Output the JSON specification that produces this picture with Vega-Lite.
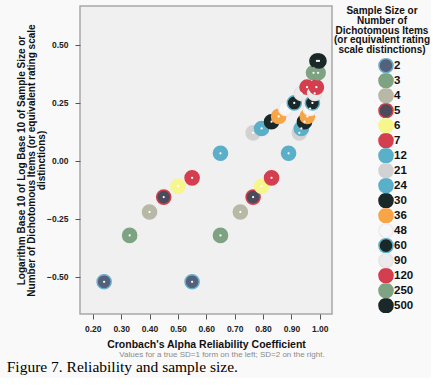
{
  "$schema": "https://vega.github.io/schema/vega-lite/v6.json",
  "background": "#f9f9f9",
  "padding": {"left": 6, "top": 5, "right": 0, "bottom": 2},
  "title": {
    "text": "Figure 7. Reliability and sample size.",
    "orient": "bottom",
    "anchor": "start",
    "frame": "bounds",
    "font": "Liberation Serif",
    "fontSize": 15.5,
    "fontWeight": "normal",
    "color": "#000000",
    "offset": 0,
    "dx": -9
  },
  "vconcat": [
    {
      "width": 252,
      "height": 308,
      "title": {
        "text": "Values for a true SD=1 form on the left; SD=2 on the right.",
        "orient": "bottom",
        "anchor": "middle",
        "font": "Liberation Sans",
        "fontSize": 8,
        "fontWeight": "normal",
        "color": "#8a8a8a",
        "offset": 1,
        "dx": 16
      },
      "data": {
        "values": [
          {"n": 2, "sd": 1, "alpha": 0.24, "y": -0.521},
          {"n": 3, "sd": 1, "alpha": 0.33, "y": -0.321},
          {"n": 4, "sd": 1, "alpha": 0.40, "y": -0.220},
          {"n": 5, "sd": 1, "alpha": 0.45, "y": -0.156},
          {"n": 6, "sd": 1, "alpha": 0.50, "y": -0.109},
          {"n": 7, "sd": 1, "alpha": 0.55, "y": -0.073},
          {"n": 12, "sd": 1, "alpha": 0.65, "y": 0.033},
          {"n": 21, "sd": 1, "alpha": 0.765, "y": 0.121},
          {"n": 24, "sd": 1, "alpha": 0.795, "y": 0.140},
          {"n": 30, "sd": 1, "alpha": 0.83, "y": 0.169},
          {"n": 36, "sd": 1, "alpha": 0.855, "y": 0.192},
          {"n": 48, "sd": 1, "alpha": 0.88, "y": 0.226},
          {"n": 60, "sd": 1, "alpha": 0.91, "y": 0.250},
          {"n": 90, "sd": 1, "alpha": 0.935, "y": 0.291},
          {"n": 120, "sd": 1, "alpha": 0.955, "y": 0.318},
          {"n": 250, "sd": 1, "alpha": 0.978, "y": 0.380},
          {"n": 500, "sd": 1, "alpha": 0.99, "y": 0.431},
          {"n": 2, "sd": 2, "alpha": 0.55, "y": -0.521},
          {"n": 3, "sd": 2, "alpha": 0.65, "y": -0.321},
          {"n": 4, "sd": 2, "alpha": 0.72, "y": -0.220},
          {"n": 5, "sd": 2, "alpha": 0.765, "y": -0.156},
          {"n": 6, "sd": 2, "alpha": 0.795, "y": -0.109},
          {"n": 7, "sd": 2, "alpha": 0.83, "y": -0.073},
          {"n": 12, "sd": 2, "alpha": 0.89, "y": 0.033},
          {"n": 21, "sd": 2, "alpha": 0.928, "y": 0.121},
          {"n": 24, "sd": 2, "alpha": 0.935, "y": 0.140},
          {"n": 30, "sd": 2, "alpha": 0.946, "y": 0.169},
          {"n": 36, "sd": 2, "alpha": 0.956, "y": 0.192},
          {"n": 48, "sd": 2, "alpha": 0.966, "y": 0.226},
          {"n": 60, "sd": 2, "alpha": 0.974, "y": 0.250},
          {"n": 90, "sd": 2, "alpha": 0.982, "y": 0.291},
          {"n": 120, "sd": 2, "alpha": 0.988, "y": 0.318},
          {"n": 250, "sd": 2, "alpha": 0.994, "y": 0.380},
          {"n": 500, "sd": 2, "alpha": 0.997, "y": 0.431}
        ]
      },
      "encoding": {
        "x": {
          "field": "alpha",
          "type": "quantitative",
          "scale": {"domain": [0.155, 1.043], "nice": false, "zero": false},
          "axis": {
            "values": [0.2, 0.3, 0.4, 0.5, 0.6, 0.7, 0.8, 0.9, 1.0],
            "format": ".2f",
            "title": "Cronbach's Alpha Reliability Coefficient"
          }
        },
        "y": {
          "field": "y",
          "type": "quantitative",
          "scale": {"domain": [-0.66, 0.668], "nice": false, "zero": false},
          "axis": {
            "values": [-0.5, -0.25, 0, 0.25, 0.5],
            "format": ".2f",
            "title": [
              "Logarithm Base 10 of Log Base 10 of Sample Size or",
              "Number of Dichotomous Items (or equivalent rating scale",
              "distinctions)"
            ]
          }
        }
      },
      "layer": [
        {
          "mark": {"type": "point", "filled": true, "size": 200, "opacity": 1, "strokeWidth": 1.5, "strokeOpacity": 1},
          "encoding": {
            "fill": {
              "field": "n",
              "type": "ordinal",
              "scale": {
                "domain": [2, 3, 4, 5, 6, 7, 12, 21, 24, 30, 36, 48, 60, 90, 120, 250, 500],
                "range": ["#54617c", "#7ea383", "#b8b8a6", "#4b4b5c", "#f6f68c", "#d43f4f", "#5aafc9", "#d2d2d2", "#5aafc9", "#1b2828", "#f8a548", "#f7f7f7", "#1b2828", "#ebebeb", "#d43f4f", "#7ea383", "#1b2828"]
              },
              "legend": {
                "title": ["Sample Size or", "Number of", "Dichotomous Items", "(or equivalent rating", "scale distinctions)"],
                "symbolOffset": 28
              }
            },
            "stroke": {
              "field": "n",
              "type": "ordinal",
              "scale": {
                "domain": [2, 3, 4, 5, 6, 7, 12, 21, 24, 30, 36, 48, 60, 90, 120, 250, 500],
                "range": ["#6aaecb", "#7ea383", "#b8b8a6", "#d0404c", "#f6f68c", "#d43f4f", "#5aafc9", "#d2d2d2", "#5aafc9", "#1b2828", "#f8a548", "#ececec", "#5aafc9", "#e4e4e4", "#d43f4f", "#7ea383", "#1b2828"]
              },
              "legend": {
                "title": ["Sample Size or", "Number of", "Dichotomous Items", "(or equivalent rating", "scale distinctions)"],
                "symbolOffset": 28
              }
            }
          }
        },
        {
          "mark": {"type": "point", "filled": true, "size": 5, "color": "#ffffff", "opacity": 1}
        }
      ]
    }
  ],
  "config": {
    "view": {"stroke": "#a8a8a8", "fill": "#f0f0f0", "strokeWidth": 1.5},
    "axis": {
      "domain": false,
      "grid": false,
      "tickColor": "#555555",
      "tickSize": 5,
      "labelFont": "Liberation Sans",
      "labelFontSize": 8.5,
      "labelFontWeight": "bold",
      "labelColor": "#222222",
      "titleFont": "Liberation Sans",
      "titleFontSize": 10,
      "titleFontWeight": "bold",
      "titleColor": "#111111",
      "titleLineHeight": 10
    },
    "axisX": {"labelPadding": 5, "titlePadding": 7, "titleFontSize": 10.5},
    "axisY": {"labelPadding": 7, "titlePadding": 0},
    "legend": {
      "orient": "right",
      "offset": 1,
      "titleFont": "Liberation Sans",
      "titleFontSize": 10,
      "titleFontWeight": "bold",
      "titleColor": "#111111",
      "titleLineHeight": 9.8,
      "titleAlign": "center",
      "titleAnchor": "middle",
      "titleLimit": 200,
      "titlePadding": 3,
      "labelFont": "Liberation Sans",
      "labelFontSize": 11.5,
      "labelFontWeight": "bold",
      "labelColor": "#111111",
      "labelOffset": 0,
      "symbolSize": 200,
      "symbolStrokeWidth": 1.5,
      "clipHeight": 14.8,
      "rowPadding": 0
    }
  }
}
